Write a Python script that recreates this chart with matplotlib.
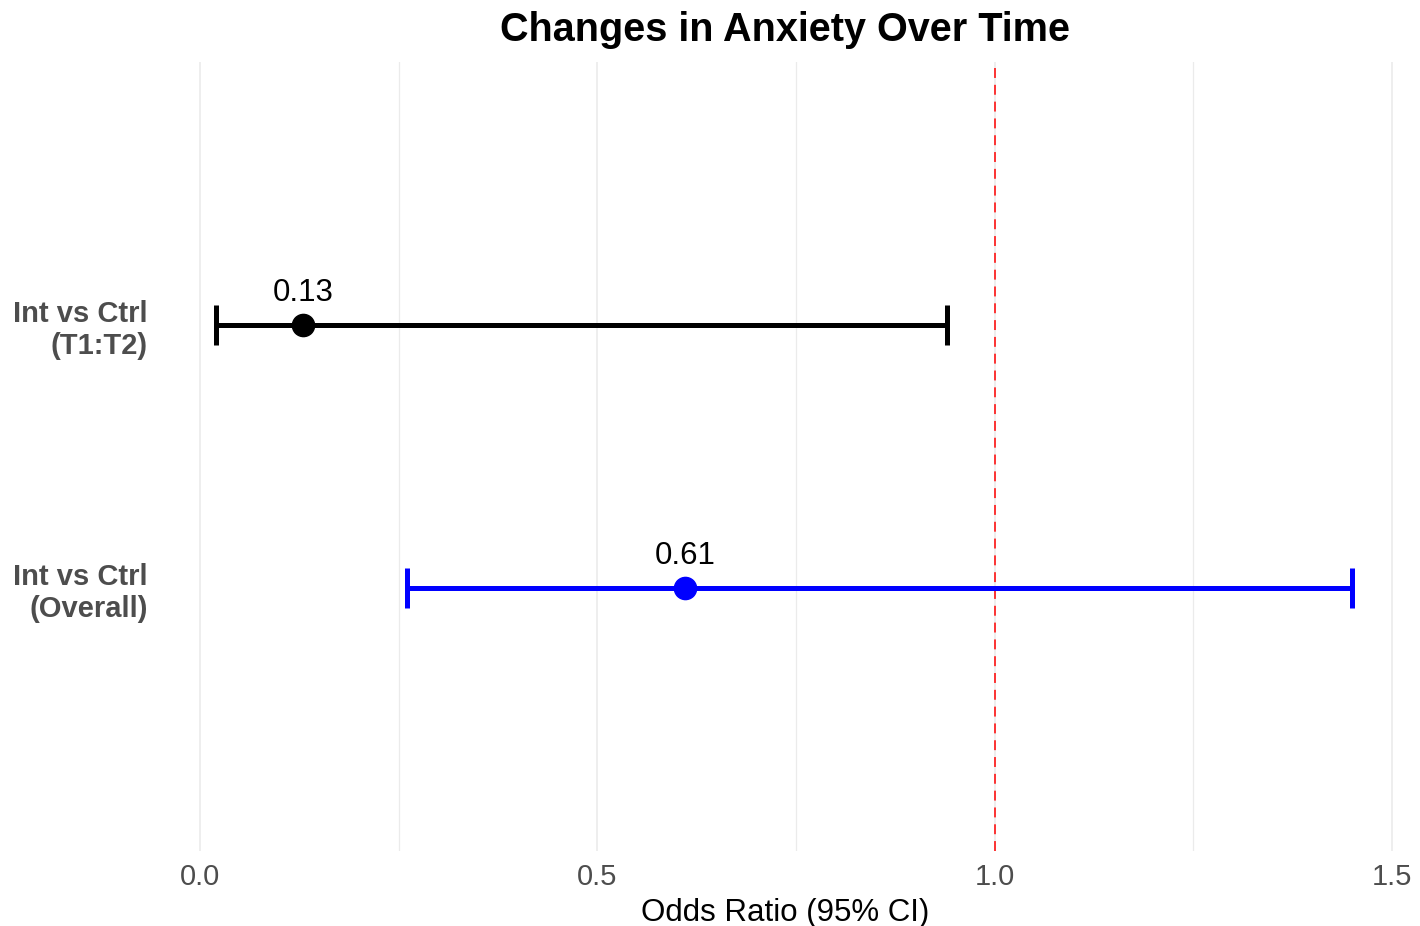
import matplotlib.pyplot as plt
from matplotlib.ticker import MultipleLocator

plt.rcParams['font.family'] = ['Liberation Sans', 'DejaVu Sans']

# odds ratios with 95% confidence intervals
labels = ['Int vs Ctrl\n(Overall)', 'Int vs Ctrl\n(T1:T2)']
odds = [0.61, 0.13]
lower = [0.26, 0.02]
upper = [1.45, 0.94]
colors = ['blue', 'black']
ypos = [1, 2]


def draw_forest():
    fig = plt.figure(figsize=(14.2, 9.26), dpi=100)
    ax = fig.add_axes([0.1127, 0.081, 0.8803, 0.852])

    for y, est, lo, hi, c in zip(ypos, odds, lower, upper, colors):
        ax.errorbar(est, y, xerr=[[est - lo], [hi - est]], fmt='o', color=c,
                    ecolor=c, elinewidth=3.6, capsize=14.4, capthick=3.6,
                    markersize=16, zorder=3)
        ax.annotate(f'{est:.2f}', (est, y), xytext=(0, 12),
                    textcoords='offset points', ha='center', va='bottom',
                    fontsize=22.5, color='black')

    ax.axvline(1.0, color='red', linestyle=(0, (6.5, 4.5)), linewidth=1.1, zorder=2)

    ax.set_xlim(-0.0503, 1.5226)
    ax.set_ylim(0, 3)
    ax.xaxis.set_major_locator(MultipleLocator(0.5))
    ax.xaxis.set_minor_locator(MultipleLocator(0.25))
    ax.set_xticks([0, 0.5, 1.0, 1.5], ['0.0', '0.5', '1.0', '1.5'])
    ax.set_yticks(ypos, labels)
    for t in ax.get_yticklabels():
        t.set_multialignment('right')
        t.set_fontweight('bold')
        t.set_fontsize(21)
        t.set_linespacing(1.2)

    ax.grid(True, axis='x', which='major', color='#ebebeb', linewidth=1.2)
    ax.grid(True, axis='x', which='minor', color='#ebebeb', linewidth=0.9)
    ax.set_axisbelow(True)
    ax.tick_params(axis='both', which='both', length=0, labelsize=21,
                   labelcolor='#4d4d4d')
    ax.tick_params(axis='y', pad=9)
    ax.tick_params(axis='x', pad=9)
    for s in ax.spines.values():
        s.set_visible(False)

    ax.set_xlabel('Odds Ratio (95% CI)', fontsize=22.5, labelpad=5)
    ax.set_title('Changes in Anxiety Over Time', fontsize=28.5,
                 fontweight='bold', pad=15)

    fig.savefig('out.png', dpi=100)


if __name__ == "__main__":
    draw_forest()
